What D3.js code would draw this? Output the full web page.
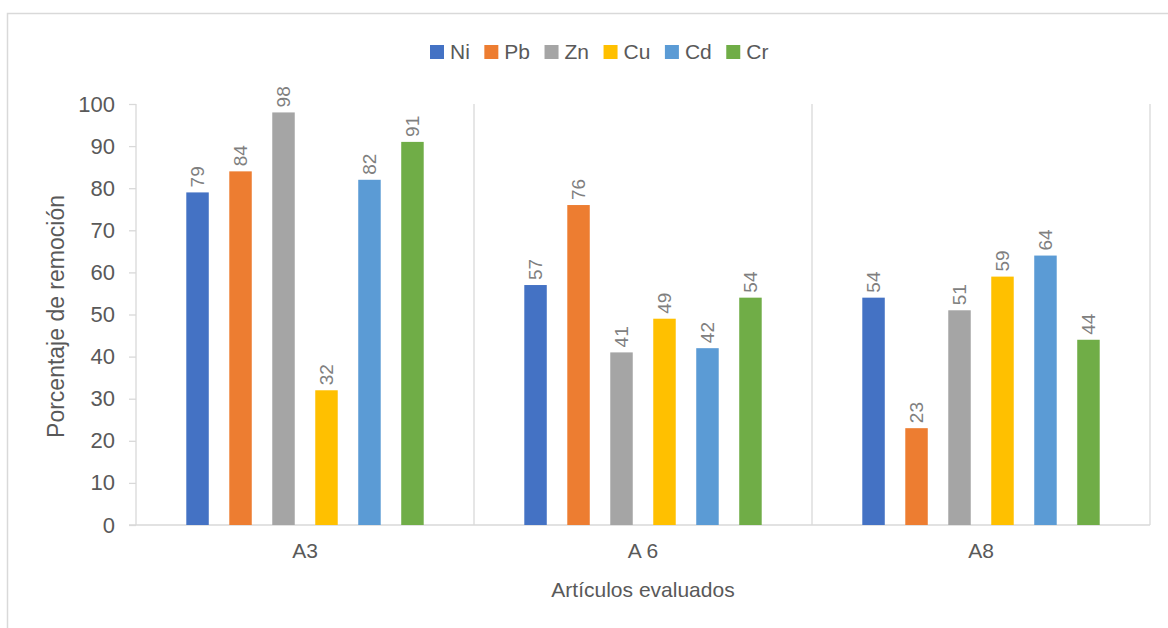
<!DOCTYPE html>
<html>
<head>
<meta charset="utf-8">
<script src="https://cdn.jsdelivr.net/npm/d3@7"></script>
<style>
  html, body { margin: 0; padding: 0; background: #fff; }
  svg { display: block; font-family: "Liberation Sans", Arial, sans-serif; }
</style>
</head>
<body>
<svg id="chart" width="1168" height="628"></svg>
<script>
// Removal percentage per evaluated article and metal
const categories = ["A3", "A 6", "A8"];
const seriesNames = ["Ni", "Pb", "Zn", "Cu", "Cd", "Cr"];
const Ni = [79, 57, 54];
const Pb = [84, 76, 23];
const Zn = [98, 41, 51];
const Cu = [32, 49, 59];
const Cd = [82, 42, 64];
const Cr = [91, 54, 44];
const seriesColors = ["#4472C4", "#ED7D31", "#A5A5A5", "#FFC000", "#5B9BD5", "#70AD47"];
const yTicks = [0, 10, 20, 30, 40, 50, 60, 70, 80, 90, 100];

const seriesValues = [Ni, Pb, Zn, Cu, Cd, Cr];

const svg = d3.select("#chart");
const plotLeft = 136, plotRight = 1150, plotTop = 104, plotBottom = 525;
const gridColor = "#d9d9d9";
const textColor = "#595959";

const y = d3.scaleLinear().domain([0, 100]).range([plotBottom, plotTop]);
const x0 = d3.scaleBand().domain(categories).range([plotLeft, plotRight]).padding(0);
const x1 = d3.scaleBand().domain(seriesNames).range([0, x0.bandwidth()])
  .paddingInner(0.477).paddingOuter(1.17);
const color = d3.scaleOrdinal().domain(seriesNames).range(seriesColors);

// Outer chart frame
svg.append("path")
  .attr("d", `M7.5,628 V13.5 H1168`)
  .attr("fill", "none").attr("stroke", gridColor).attr("stroke-width", 1.5);

// Category separators and right edge of the plot
svg.append("g").selectAll("line")
  .data(categories.slice(1).map(c => x0(c)).concat([plotRight]))
  .join("line")
  .attr("x1", d => d).attr("x2", d => d)
  .attr("y1", plotTop).attr("y2", plotBottom)
  .attr("stroke", gridColor).attr("stroke-width", 1.3);

// Value axis
const yAxis = svg.append("g")
  .attr("transform", `translate(${plotLeft},0)`)
  .call(d3.axisLeft(y).tickValues(yTicks).tickSize(7).tickPadding(14));
yAxis.select(".domain").attr("stroke", gridColor).attr("stroke-width", 1.3)
  .attr("d", `M0,${plotTop}V${plotBottom}`);
yAxis.selectAll(".tick line").attr("stroke", gridColor).attr("stroke-width", 1.3);
yAxis.selectAll(".tick text").attr("fill", textColor)
  .style("font-size", "22px").style("font-family", "'Liberation Sans', Arial, sans-serif");

// Category axis
const xAxis = svg.append("g")
  .attr("transform", `translate(0,${plotBottom})`)
  .call(d3.axisBottom(x0).tickSize(0).tickPadding(18));
xAxis.select(".domain").attr("stroke", gridColor).attr("stroke-width", 1.5)
  .attr("d", `M${plotLeft - 7},0H${plotRight}`);
xAxis.selectAll(".tick text").attr("fill", textColor)
  .style("font-size", "21px").style("font-family", "'Liberation Sans', Arial, sans-serif");

// Bars
const groups = svg.append("g").selectAll("g")
  .data(categories)
  .join("g")
  .attr("transform", c => `translate(${x0(c)},0)`);

groups.selectAll("rect")
  .data((c, i) => seriesNames.map((s, k) => ({ s, v: seriesValues[k][i] })))
  .join("rect")
  .attr("x", d => x1(d.s))
  .attr("width", x1.bandwidth())
  .attr("y", d => y(d.v))
  .attr("height", d => y(0) - y(d.v))
  .attr("fill", d => color(d.s));

// Value labels, rotated above each bar
groups.selectAll("text.val")
  .data((c, i) => seriesNames.map((s, k) => ({ s, v: seriesValues[k][i] })))
  .join("text")
  .attr("class", "val")
  .attr("transform", d => `translate(${x1(d.s) + x1.bandwidth() / 2},${y(d.v) - 5}) rotate(-90)`)
  .attr("dy", "0.35em")
  .attr("text-anchor", "start")
  .attr("fill", "#7f7f7f")
  .style("font-size", "19px")
  .text(d => d3.format("d")(d.v));

// Axis titles
svg.append("text")
  .attr("transform", `translate(56,${(plotTop + plotBottom) / 2 + 2}) rotate(-90)`)
  .attr("text-anchor", "middle").attr("dy", "0.35em")
  .attr("fill", textColor).style("font-size", "23px")
  .text("Porcentaje de remoción");

svg.append("text")
  .attr("x", (plotLeft + plotRight) / 2).attr("y", 590)
  .attr("text-anchor", "middle").attr("dy", "0.35em")
  .attr("fill", textColor).style("font-size", "21px")
  .text("Artículos evaluados");

// Legend
const legend = svg.append("g");
let lx = 430;
seriesNames.forEach(s => {
  const item = legend.append("g").attr("transform", `translate(${lx},0)`);
  item.append("rect").attr("x", 0).attr("y", 45).attr("width", 14).attr("height", 14)
    .attr("fill", color(s));
  const t = item.append("text").attr("x", 20).attr("y", 52).attr("dy", "0.35em")
    .attr("fill", textColor).style("font-size", "21px").text(s);
  lx += 20 + t.node().getComputedTextLength() + 14.5;
});
</script>
</body>
</html>
